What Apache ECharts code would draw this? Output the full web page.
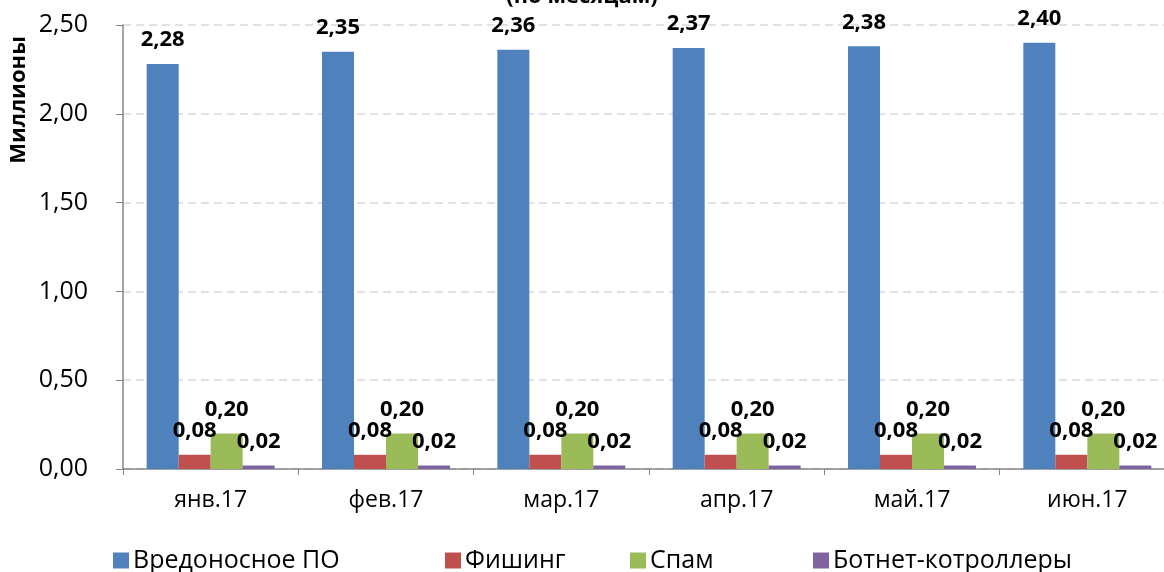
<!DOCTYPE html>
<html>
<head>
<meta charset="utf-8">
<script src="https://cdn.jsdelivr.net/npm/echarts@6/dist/echarts.min.js"></script>
<style>
  html, body { margin: 0; padding: 0; background: #fff; }
  #chart { width: 1164px; height: 572px; }
</style>
</head>
<body>
<div id="chart"></div>
<script>
const months = ['янв.17', 'фев.17', 'мар.17', 'апр.17', 'май.17', 'июн.17']
const malware = [2.28, 2.35, 2.36, 2.37, 2.38, 2.40]
const phishing = [0.08, 0.08, 0.08, 0.08, 0.08, 0.08]
const spam = [0.20, 0.20, 0.20, 0.20, 0.20, 0.20]
const botnet = [0.02, 0.02, 0.02, 0.02, 0.02, 0.02]
const seriesNames = ['Вредоносное ПО', 'Фишинг', 'Спам', 'Ботнет-котроллеры']
const colors = ['#4f81bd', '#c0504d', '#9bbb59', '#8064a2']
const legendLeft = [108, 440, 625, 808]

const font = 'Open Sans'
const fmt = (v) => v.toFixed(2).replace('.', ',')

const chart = echarts.init(document.getElementById('chart'))

const makeSeries = (name, data, color) => ({
  name: name,
  type: 'bar',
  data: data,
  barGap: '0%',
  barCategoryGap: '27%',
  itemStyle: { color: color },
  label: {
    show: true,
    position: 'top',
    distance: 13,
    fontFamily: font,
    fontWeight: 'bold',
    fontSize: 22,
    color: '#000',
    formatter: (p) => fmt(p.value)
  }
})

// одна легенда на каждую серию, чтобы расставить как в Excel
const legends = seriesNames.map((name, i) => ({
  top: 543,
  left: legendLeft[i],
  itemWidth: 16,
  itemHeight: 16,
  icon: 'rect',
  textStyle: { fontFamily: font, fontSize: 25, color: '#000', padding: [0, 0, 0, -1] },
  data: [name]
}))

const option = {
  animation: false,
  title: {
    text: '(по месяцам)',
    left: 'center',
    top: -19,
    textStyle: { fontFamily: font, fontWeight: 'bold', fontSize: 22, color: '#000' }
  },
  // график в оригинале чуть вылезает за правый край
  grid: { left: 123, width: 1052, top: 25, bottom: 103, outerBoundsMode: 'none' },
  legend: legends,
  xAxis: {
    type: 'category',
    data: months,
    axisLine: { lineStyle: { color: '#868686', width: 1.5 } },
    axisTick: { show: true, length: 6, lineStyle: { color: '#868686' } },
    axisLabel: { fontFamily: font, fontSize: 23, color: '#000', margin: 20 }
  },
  yAxis: {
    type: 'value',
    min: 0,
    max: 2.5,
    interval: 0.5,
    axisLine: { show: true, lineStyle: { color: '#868686', width: 1.5 } },
    axisTick: { show: true, length: 7, lineStyle: { color: '#868686' } },
    axisLabel: { fontFamily: font, fontSize: 25, color: '#000', margin: 35, formatter: (v) => fmt(v) },
    splitLine: { show: true, lineStyle: { color: '#d9d9d9', type: [8, 5], width: 1.5 } }
  },
  graphic: [{
    type: 'text',
    x: 19,
    y: 100,
    rotation: Math.PI / 2,
    style: {
      text: 'Миллионы',
      fontFamily: font,
      fontWeight: 'bold',
      fontSize: 22,
      fill: '#000',
      align: 'center',
      verticalAlign: 'middle'
    }
  }],
  series: [
    makeSeries(seriesNames[0], malware, colors[0]),
    makeSeries(seriesNames[1], phishing, colors[1]),
    makeSeries(seriesNames[2], spam, colors[2]),
    makeSeries(seriesNames[3], botnet, colors[3])
  ]
}

chart.setOption(option)
</script>
</body>
</html>
